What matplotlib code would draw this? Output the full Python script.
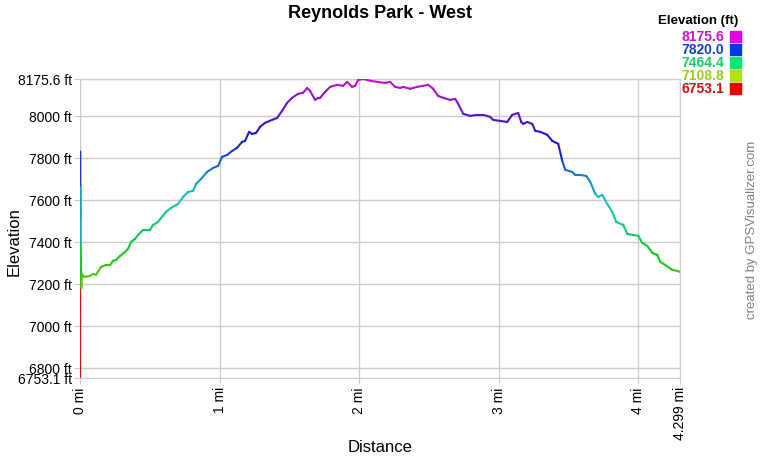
import numpy as np
import matplotlib
matplotlib.use("Agg")
import matplotlib.pyplot as plt
from matplotlib.collections import LineCollection
import colorsys

plt.rcParams['font.family'] = ['Liberation Sans', 'DejaVu Sans']

title = "Reynolds Park - West"
elev_min, elev_max = 6753.1, 8175.6
total_dist = 4.299

distance_mi = [0.0, 0.001, 0.002, 0.003, 0.005, 0.010, 0.014, 0.0287, 0.0717, 0.0932, 0.1147,
               0.1505, 0.1864, 0.2151, 0.2366, 0.2581, 0.2867, 0.3226, 0.3441, 0.3656, 0.3943,
               0.4158, 0.4516, 0.5018, 0.5233, 0.5591, 0.5806, 0.6165, 0.6523, 0.7025, 0.7384,
               0.7742, 0.8100, 0.8315, 0.8674, 0.9104, 0.9534, 0.9892, 1.0179, 1.0538, 1.0896,
               1.1254, 1.1613, 1.1828, 1.2115, 1.2330, 1.2616, 1.2903, 1.3262, 1.3763, 1.4122,
               1.4480, 1.4839, 1.5197, 1.5627, 1.5986, 1.6272, 1.6487, 1.6846, 1.7061, 1.7204,
               1.7563, 1.7921, 1.8423, 1.8853, 1.9140, 1.9498, 1.9713, 1.9928, 2.0287, 2.0789,
               2.1290, 2.1864, 2.2222, 2.2581, 2.2939, 2.3154, 2.3656, 2.4158, 2.4588, 2.4946,
               2.5305, 2.5663, 2.6022, 2.6523, 2.6882, 2.7097, 2.7455, 2.7957, 2.8459, 2.8889,
               2.9391, 2.9606, 3.0108, 3.0609, 3.0968, 3.1398, 3.1613, 3.1756, 3.2043, 3.2401,
               3.2616, 3.2975, 3.3477, 3.3835, 3.4265, 3.4552, 3.4767, 3.5269, 3.5484, 3.5842,
               3.6272, 3.6559, 3.6918, 3.7133, 3.7419, 3.7778, 3.8136, 3.8423, 3.8925, 3.9211,
               3.9642, 4.0000, 4.0287, 4.0645, 4.1004, 4.1362, 4.1577, 4.1935, 4.2437, 4.2796,
               4.2990]

elevation_ft = [6753.1, 7830, 7500, 7660, 7390, 7180, 7245, 7233, 7238, 7248, 7243,
                7281, 7290, 7290, 7310, 7314, 7333, 7352, 7367, 7400, 7414,
                7433, 7457, 7457, 7481, 7495, 7514, 7543, 7562, 7581, 7614,
                7638, 7643, 7676, 7700, 7733, 7752, 7762, 7805, 7814, 7833,
                7848, 7876, 7881, 7924, 7914, 7919, 7948, 7967, 7981, 7990,
                8024, 8062, 8086, 8105, 8110, 8133, 8119, 8076, 8086, 8086,
                8114, 8138, 8148, 8143, 8162, 8138, 8143, 8171, 8175.6, 8167,
                8162, 8157, 8162, 8138, 8133, 8138, 8129, 8138, 8143, 8148,
                8129, 8095, 8086, 8076, 8081, 8057, 8010, 8000, 8005, 8005,
                7995, 7981, 7976, 7971, 8005, 8014, 7971, 7962, 7971, 7962,
                7929, 7924, 7910, 7881, 7867, 7786, 7743, 7733, 7719, 7719,
                7714, 7686, 7629, 7614, 7624, 7581, 7543, 7495, 7481, 7438,
                7433, 7429, 7395, 7381, 7348, 7338, 7305, 7290, 7267, 7262,
                7257]

y_ticks = [6753.1, 6800, 7000, 7200, 7400, 7600, 7800, 8000, 8175.6]
y_tick_labels = ["6753.1 ft", "6800 ft", "7000 ft", "7200 ft", "7400 ft", "7600 ft",
                 "7800 ft", "8000 ft", "8175.6 ft"]
x_ticks = [0, 1, 2, 3, 4, 4.299]
x_tick_labels = ["0 mi", "1 mi", "2 mi", "3 mi", "4 mi", "4.299 mi"]
legend_values = ["8175.6", "7820.0", "7464.4", "7108.8", "6753.1"]


def elev_color(e, s=0.9, v=0.78):
    f = (e - elev_min) / (elev_max - elev_min)
    f = min(max(f, 0), 1)
    return colorsys.hsv_to_rgb(f * 300 / 360, s, v)


fig = plt.figure(figsize=(7.6, 4.6), dpi=100)
ax = fig.add_axes([80 / 760, 1 - 378.8 / 460, 600 / 760, (378.8 - 80) / 460])

# each segment coloured by the elevation at its start point
d = np.array(distance_mi)
e = np.array(elevation_ft)
segs = [[(d[i], e[i]), (d[i + 1], e[i + 1])] for i in range(len(d) - 1)]
cols = [elev_color(e[i]) for i in range(len(d) - 1)]
lc = LineCollection(segs, colors=cols, linewidths=1.5, capstyle='round', zorder=3)
ax.add_collection(lc)

ax.set_xlim(0, total_dist)
ax.set_ylim(elev_min, elev_max)
ax.set_xticks(x_ticks)
ax.set_xticklabels(x_tick_labels, rotation=90, fontsize=10, va='top')
ax.set_yticks(y_ticks)
ax.set_yticklabels(y_tick_labels, fontsize=10)
ax.grid(True, color='#cccccc', linewidth=1)
ax.tick_params(axis='both', length=4, color='#cccccc', pad=2)
for sp in ax.spines.values():
    sp.set_color('#cccccc')
ax.set_axisbelow(True)

fig.text(380 / 760, 1 - 448 / 460, "Distance", fontsize=12, ha='center', va='center')
fig.text(14 / 760, 1 - 242 / 460, "Elevation", fontsize=12, rotation=90,
         ha='center', va='center')

fig.text(380 / 760, 1 - 14 / 460, title, fontsize=13, fontweight='bold',
         ha='center', va='center')

# legend
fig.text(738 / 760, 1 - 21 / 460, "Elevation (ft)", fontsize=9.5, fontweight='bold',
         ha='right', va='center')
for k, val in enumerate(legend_values):
    yy = 1 - (37 + 13 * k) / 460
    ev = float(val)
    fig.text(724 / 760, yy, val, fontsize=10, fontweight='bold', ha='right', va='center',
             color=elev_color(ev, s=0.9, v=0.8))
    fig.patches.append(plt.Rectangle((730 / 760, yy - 5.5 / 460), 11 / 760, 11 / 460,
                                     transform=fig.transFigure, figure=fig,
                                     color=elev_color(ev, s=1.0, v=0.9)))

fig.text(752 / 760, 1 - 230 / 460, "created by GPSVisualizer.com", rotation=90,
         fontsize=9.5, color='#808080', ha='center', va='center')

fig.savefig("out.png", dpi=100)
